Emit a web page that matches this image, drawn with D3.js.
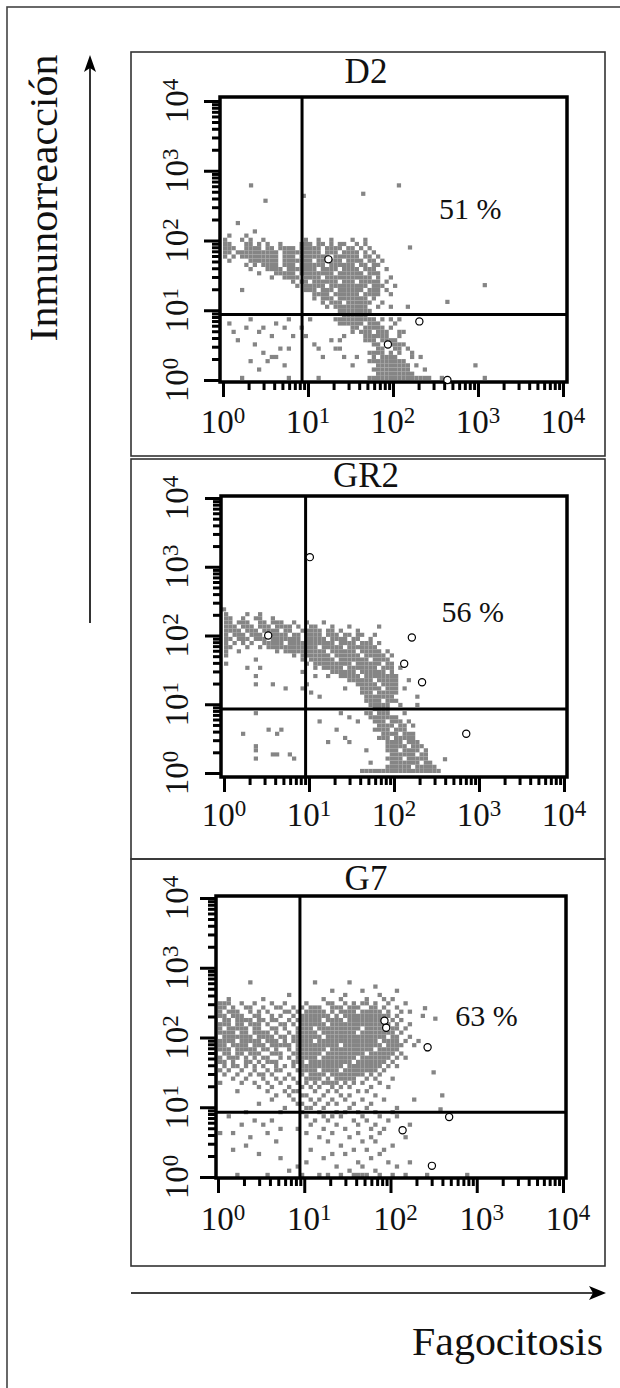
<!DOCTYPE html>
<html>

<head>
    <meta charset="utf-8">
    <style>
        body {
            margin: 0;
            background: #fff;
        }

        svg {
            display: block;
        }

        text {
            font-family: 'Liberation Serif', 'DejaVu Serif', 'Times New Roman', serif;
            fill: #111;
        }
    </style>
</head>

<body>
    <svg width="620" height="1388"></svg>
</body>

<script src="https://d3js.org/d3.v7.min.js"></script>

<script>
    // ---- data (log10 units, 0..4 decades on both axes) ----
    let panelNames = ["D2", "GR2", "G7"]
    let percentLabels = ["51 %", "56 %", "63 %"]
    let decades = [0, 1, 2, 3, 4]
    let exponents = ["0", "1", "2", "3", "4"]
    let gateX = [0.93, 0.96, 0.95]
    let gateY = [0.94, 0.93, 0.93]

    // density cells: one string per row (top row first), listing occupied columns
    let cellW = 0.05
    let cellH = 0.06
    let rowTops = [2.40, 2.40, 2.82]

    let d2Rows = ["", "", "3", "", "7", "1,5",
        "0,4,6,9,19,22,25,30,33",
        "0-1,5-6,8,10,13,18-20,22-23,25,27-28,31,33",
        "0-2,5-8,10-11,13-16,18-22,24-27,29-30,32,34",
        "0-1,3-12,14-22,24-26,28-31,33,35",
        "0,2,4-12,14-16,18-24,26-31,33-34,36",
        "1,6-12,14-20,22-27,29-32,34-35,37",
        "5,7,9-12,14-16,18-23,25-30,32-33,35-36",
        "6,10-13,15-21,23-26,28-31,33-35,38",
        "8,12-16,18-25,27-32,34-36",
        "11,14-17,19-22,24-34,36,39",
        "16,18-19,21-26,28-30,32-36,38",
        "17,19-23,25-33,35-37,40",
        "4,19-21,23-25,27-32,34-36,38",
        "21-24,26-31,33-36,39",
        "21,23-25,27-33,35",
        "23,25-27,29-34,37",
        "24,26-33,36,39,43",
        "27-34",
        "28-33",
        "6,15,20,26-35,37,39,41",
        "1,12,27-32,34-36,40",
        "5,9,14,18,30-31,33-37,39",
        "2,8,30,32-34,36-38,41-42",
        "11,16,19,28,33-38,41",
        "3,25,27,33-35,37-40",
        "7,21,35-36,39-42",
        "13,15,22,26-27,36-37,40-41,43",
        "9,34-37,39,41,44",
        "11-12,23,28,31,35,37-40,44,46",
        "6,10,34-42",
        "14,30,36-43,45",
        "8,35-43,47",
        "36-44",
        "4,15,22,34-48,51"]

    let gr2Rows = ["",
        "0,5,8",
        "0-1,4,7-8,11",
        "0-1,3-5,8-9,11-13,16,19,23",
        "0-2,4-6,8-10,12-15,17,20-21,25,29,36",
        "0-3,5-7,9-12,14-15,18-22,24-25,27,31",
        "0,2-4,6-8,11-14,16-17,19-22,24-26,28-29,31-32,35",
        "0-1,3-5,7-9,11-17,19-23,25-28,30-31,34",
        "0,2,4,6,9-13,15-25,27-30,32-34,36",
        "0-1,5,8,10-21,23-27,29-35",
        "0,3,12,14-23,25-30,32-36,38",
        "0,16,18-24,26-31,33-37,39",
        "7,18,20-25,27-33,35-38",
        "0,19,21-29,31-36,38-39",
        "5,8,21,23-27,29-35,37-39,41",
        "18,25-30,32-37,39",
        "7,21,24,27-31,33-40",
        "29-34,36-40,43",
        "7,11,19,31-35,37-40",
        "14,18,28,32-36,38-40,42",
        "20,32-34,36-40",
        "22,33-39,45",
        "33-36,38-40",
        "34-38,41,45",
        "35-38",
        "7,27,33-34,36-38,42",
        "29,34-40",
        "22,31,35-37,39-41,43",
        "36-39,41-42,44",
        "10,13,26,35-38,40-42",
        "4,12,37-40,42-44",
        "28,36-38,40-44",
        "24,29,38-41,43-45",
        "7,38-42,44-46",
        "7,33,38-40,42-45,47",
        "11-12,15,39-44,46-47",
        "7,16,38-41,43-47",
        "34,39-45,47-48",
        "38-43,45-49",
        "32-50"]

    let g7Rows = ["7,22,30", "36", "26,33,41", "16,29,37",
        "2,10,24,28,34,38,40",
        "0-2,5,8,12,15,20,25-26,29,31,33-34,36,39,43",
        "0-1,3,6-7,10,13-14,17,19,21-23,26-28,30-32,35-36,38,41",
        "0,2-4,7,9,11,15-16,18,20-24,26,28-31,33-37,39,42,44",
        "0-1,3-5,8-9,12,14,17,19-25,27,29-39,41,47",
        "1-2,4-7,9-10,12-13,16,18-23,25-28,30-38,40,42",
        "0-2,4-5,7-9,11,14-15,17,19-24,26-39,41,44",
        "0,2-6,8-9,12-13,15,18-21,23-32,34-38,40-41,43",
        "0-3,5-6,8-11,13,16,18-22,24-31,33-40,42",
        "1-7,9-12,14-15,17-23,25-38,40-41,44",
        "0-3,5-9,11-13,15,17-21,23-36,38-41,43,46",
        "0-1,3-6,8-10,12-16,18-27,29-37,39-42,45",
        "0-2,4-8,10-11,13,16,18-24,26-35,37-41,48",
        "1-2,4-5,7-9,12-14,17-23,25-33,35-40,42",
        "0,2-4,6,8,10-11,14,16,18-22,24-31,33-39,41,43",
        "0-1,3,6-7,9,11-13,17-19,21-30,32-38,40",
        "1,3-4,6,8,10,13,15,17,19-28,30-37,39,41",
        "0,2,5,8,11,13-14,18-22,24-27,29-36,38",
        "1,4,7,9-10,12,16,19,21-24,26-33,35,37",
        "3,6,10,13,15,17,20-23,25,27-31,34,36,40",
        "0,5,8,11,14,18,20,22,24-27,29,31,33,37",
        "9,12,16,19,21,23,26,28,30,35,39",
        "4,11,15,17-18,22,25,27,32,34",
        "13,16,19-20,24,28,30,36",
        "12,17,21,23,26,29,33,38,45",
        "9,18-19,22,25,27,31,35",
        "15,20-21,24,30,34,41",
        "6,14,19,23,27,29,32,36,40",
        "2,20,24,26,28,33,37,41",
        "8,12,22,25,31,34,39",
        "5,10,21,27,32,36,44",
        "14,18,24,29,35,38,42",
        "0,3,11,20,26,32,37",
        "7,23,30,35,43",
        "13,25,33,36",
        "6,28,40",
        "3,21,31,34,38",
        "9,26,29,37",
        "14,24,35",
        "20,32,39,44",
        "18,27,33,41",
        "16,30,36",
        "4,11,19,23,25,28,31-34,37,40,43,48"]

    // isolated events outside the dense cloud [log x, log y]
    let d2Extra = [[0.33, 2.79], [0.5, 2.57], [0.95, 2.64], [1.65, 2.67], [2.07, 2.79],
        [3.08, 1.36], [2.64, 1.12], [2.97, 0.21], [3.08, 0.03], [2.2, 1.9]]
    let gr2Extra = [[2.6, 0.2], [0.0, 2.38]]
    let g7Extra = [[2.6, 1.17], [2.4, 2.42], [2.52, 2.27], [2.5, 1.5], [2.58, 0.97], [2.89, 0.03]]

    // open circles (gated events)
    let d2Circles = [[1.24, 1.73], [2.31, 0.84], [1.94, 0.51], [2.64, 0.0]]
    let gr2Circles = [[0.52, 2.0], [1.01, 3.14], [2.21, 1.97], [2.12, 1.59], [2.33, 1.32], [2.85, 0.57]]
    let g7Circles = [[1.93, 2.24], [1.95, 2.14], [2.43, 1.86], [2.68, 0.86], [2.14, 0.67], [2.48, 0.16]]

    // ---- layout (pixels) ----
    let layout = [
        { box: [131, 52, 605, 456], frame: [220, 97, 567, 382], xr: [223, 563], yr: [380, 101], titleY: 83, labDx: 0, pct: [2.54, 2.31] },
        { box: [131, 459, 605, 859], frame: [221, 496, 567, 777], xr: [224, 564], yr: [773, 498], titleY: 487, labDx: 0, pct: [2.56, 2.20] },
        { box: [131, 859, 605, 1266], frame: [216, 896, 566, 1178], xr: [218, 563], yr: [1177, 898], titleY: 890, labDx: 5, pct: [2.75, 2.17] }
    ]

    let allRows = [d2Rows, gr2Rows, g7Rows]
    let allExtra = [d2Extra, gr2Extra, g7Extra]
    let allCircles = [d2Circles, gr2Circles, g7Circles]

    function parseRow(s) {
        let cols = []
        if (!s) return cols
        s.split(",").forEach(part => {
            let ab = part.split("-").map(Number)
            if (ab.length == 1) cols.push(ab[0])
            else for (let c = ab[0]; c <= ab[1]; c++) cols.push(c)
        })
        return cols
    }

    let minors = []
    for (let d = 0; d < 4; d++) {
        for (let m = 2; m <= 9; m++) minors.push(d + Math.log10(m))
    }

    let svg = d3.select("svg")

    // outer frame (only top/left edges fall inside the picture)
    svg.append("rect")
        .attr("x", 7).attr("y", 7)
        .attr("width", 640).attr("height", 1400)
        .style("fill", "none")
        .style("stroke", "#444")
        .style("stroke-width", 1.6)

    panelNames.forEach((name, p) => {
        let L = layout[p]
        let g = svg.append("g")

        let x = d3.scaleLinear().domain([0, 4]).range(L.xr)
        let y = d3.scaleLinear().domain([0, 4]).range(L.yr)

        g.append("rect")
            .attr("x", L.box[0]).attr("y", L.box[1])
            .attr("width", L.box[2] - L.box[0]).attr("height", L.box[3] - L.box[1])
            .style("fill", "none")
            .style("stroke", "#333")
            .style("stroke-width", 1.6)

        g.append("text")
            .attr("x", 366).attr("y", L.titleY)
            .attr("text-anchor", "middle")
            .style("font-size", "35px")
            .text(name)

        // density cells
        let top = rowTops[p]
        let cells = []
        allRows[p].forEach((s, j) => {
            parseRow(s).forEach(i => cells.push({ x: i * cellW, y: top - (j + 1) * cellH }))
        })
        allExtra[p].forEach(e => cells.push({ x: e[0] - cellW / 2, y: e[1] - cellH / 2 }))

        g.selectAll(".cell")
            .data(cells)
            .join("rect")
            .attr("class", "cell")
            .attr("x", d => x(d.x))
            .attr("y", d => y(d.y + cellH))
            .attr("width", d => x(d.x + cellW) - x(d.x))
            .attr("height", d => y(d.y) - y(d.y + cellH))
            .style("fill", "#858585")

        // quadrant gates
        g.append("line")
            .attr("x1", x(gateX[p])).attr("x2", x(gateX[p]))
            .attr("y1", L.frame[1]).attr("y2", L.frame[3])
            .style("stroke", "#000").style("stroke-width", 3)
        g.append("line")
            .attr("x1", L.frame[0]).attr("x2", L.frame[2])
            .attr("y1", y(gateY[p])).attr("y2", y(gateY[p]))
            .style("stroke", "#000").style("stroke-width", 3)

        g.append("rect")
            .attr("x", L.frame[0]).attr("y", L.frame[1])
            .attr("width", L.frame[2] - L.frame[0]).attr("height", L.frame[3] - L.frame[1])
            .style("fill", "none")
            .style("stroke", "#000")
            .style("stroke-width", 3.5)

        g.selectAll(".dot")
            .data(allCircles[p])
            .join("circle")
            .attr("class", "dot")
            .attr("cx", d => x(d[0]))
            .attr("cy", d => y(d[1]))
            .attr("r", 3.6)
            .style("fill", "#fff")
            .style("stroke", "#000")
            .style("stroke-width", 1.2)

        // axes: major + minor ticks hanging off the frame
        let axes = [
            [d3.axisBottom(x).tickValues(decades).tickSize(15), "translate(0," + L.frame[3] + ")"],
            [d3.axisBottom(x).tickValues(minors).tickSize(8), "translate(0," + L.frame[3] + ")"],
            [d3.axisLeft(y).tickValues(decades).tickSize(16), "translate(" + L.frame[0] + ",0)"],
            [d3.axisLeft(y).tickValues(minors).tickSize(8), "translate(" + L.frame[0] + ",0)"]
        ]
        axes.forEach(a => {
            let ax = g.append("g")
                .attr("transform", a[1])
                .call(a[0].tickFormat(""))
            ax.select(".domain").remove()
            ax.selectAll("line").style("stroke", "#000").style("stroke-width", 3)
        })

        // tick labels 10^n
        let xl = g.selectAll(".xlab")
            .data(decades)
            .join("text")
            .attr("class", "xlab")
            .attr("x", d => x(d) + L.labDx)
            .attr("y", L.yr[0] + 53)
            .attr("text-anchor", "middle")
            .style("font-size", "33px")
        xl.append("tspan").text("10")
        xl.append("tspan").attr("dy", -10).style("font-size", "23px").text((d, i) => exponents[i])

        let yl = g.selectAll(".ylab")
            .data(decades)
            .join("text")
            .attr("class", "ylab")
            .attr("transform", d => "translate(188," + y(d) + ") rotate(-90)")
            .attr("text-anchor", "middle")
            .style("font-size", "33px")
        yl.append("tspan").text("10")
        yl.append("tspan").attr("dy", -10).style("font-size", "23px").text((d, i) => exponents[i])

        g.append("text")
            .attr("x", x(L.pct[0])).attr("y", y(L.pct[1]))
            .style("font-size", "30px")
            .text(percentLabels[p])
    })

    // side labels and arrows
    svg.append("text")
        .attr("transform", "translate(57,198) rotate(-90)")
        .attr("text-anchor", "middle")
        .attr("textLength", 287)
        .attr("lengthAdjust", "spacingAndGlyphs")
        .style("font-size", "39px")
        .text("Inmunorreacción")

    svg.append("line")
        .attr("x1", 90).attr("x2", 90).attr("y1", 623).attr("y2", 64)
        .style("stroke", "#000").style("stroke-width", 1.6)
    svg.append("path")
        .attr("d", "M90,55 L96,72 L90,68 L84,72 Z")
        .style("fill", "#000")

    svg.append("line")
        .attr("x1", 131).attr("x2", 597).attr("y1", 1293).attr("y2", 1293)
        .style("stroke", "#000").style("stroke-width", 1.6)
    svg.append("path")
        .attr("d", "M606,1293 L589,1286 L593,1293 L589,1300 Z")
        .style("fill", "#000")

    svg.append("text")
        .attr("x", 603).attr("y", 1355)
        .attr("text-anchor", "end")
        .attr("textLength", 191)
        .attr("lengthAdjust", "spacingAndGlyphs")
        .style("font-size", "39px")
        .text("Fagocitosis")
</script>

</html>
